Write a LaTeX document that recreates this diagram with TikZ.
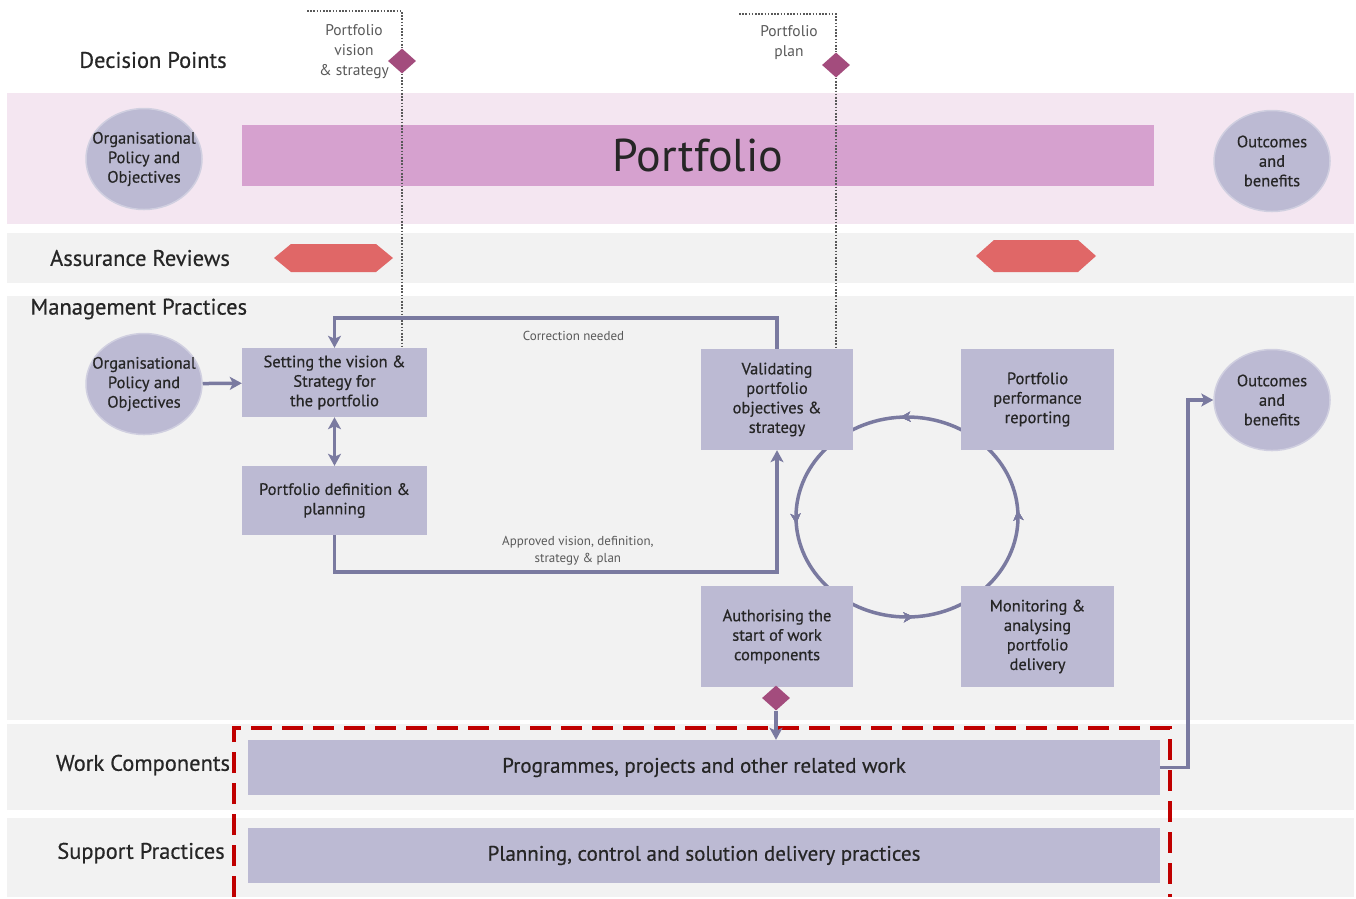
\documentclass[tikz,border=0pt]{standalone}
\usepackage{fontspec}
\setmainfont{PT Sans}
\newfontfamily\heavyfont{PT Sans}[FakeBold = 0.5]
\usetikzlibrary{arrows.meta}
\usetikzlibrary{shapes.geometric}
\usetikzlibrary{decorations.markings}
\usetikzlibrary{positioning}
\definecolor{bandpink}{HTML}{F4E6F1}
\definecolor{bandgrey}{HTML}{F2F2F2}
\definecolor{barpink}{HTML}{D6A1CF}
\definecolor{boxfill}{HTML}{BCBAD3}
\definecolor{ringline}{HTML}{D0CFE0}
\definecolor{flow}{HTML}{7A7AA0}
\definecolor{gatefill}{HTML}{A34C7D}
\definecolor{reviewfill}{HTML}{E06767}
\definecolor{scopered}{HTML}{C00000}
\definecolor{textdark}{HTML}{262626}
\definecolor{textsoft}{HTML}{595959}
\tikzset{box/.style = {fill = boxfill, text = textdark, align = center, inner sep = 0,
                       font = \heavyfont\fontsize{16.5}{19.5}\selectfont}}
\tikzset{ring/.style = {ellipse, fill = boxfill, draw = ringline, line width = 1.5,
                        minimum width = 116, minimum height = 101, inner xsep = -14, inner ysep = 0,
                        text = textdark, align = center, font = \heavyfont\fontsize{16.5}{19.5}\selectfont}}
\tikzset{gate/.style = {diamond, fill = gatefill, minimum width = 28, minimum height = 25,
                        inner sep = 0, aspect = 1.1}}
\tikzset{link/.style = {draw = flow, line width = 3.5}}
\tikzset{tip/.style = {-{Stealth[length = 12, width = 13, inset = 3]}}}
\tikzset{label/.style = {text = textsoft, align = center, font = \fontsize{15.5}{20}\selectfont}}
\tikzset{note/.style = {text = textsoft, align = center, font = \fontsize{13}{17}\selectfont}}
\tikzset{rowname/.style = {text = textdark, font = \heavyfont\fontsize{22.5}{26}\selectfont}}
\tikzset{dots/.style = {draw = textsoft, line width = 1.6, dash pattern = on 1.6 off 1.6}}
\tikzset{->-/.style = {decoration = {markings,
                                     mark = at position #1 with {\arrow{Stealth[length = 10, width = 10, inset = 3]}}},
                       postaction = {decorate}}}

\begin{document}
\begin{tikzpicture}[x = 1pt, y = -1pt]
    \useasboundingbox (0, 0) rectangle (1356, 898);
    \fill [white] (0, 0) rectangle (1356, 898);

    % bands
    \fill [bandpink] (7, 93) rectangle (1354, 224);
    \fill [bandgrey] (7, 233) rectangle (1354, 283);
    \fill [bandgrey] (7, 296) rectangle (1354, 720);
    \fill [bandgrey] (7, 724) rectangle (1354, 810);
    \fill [bandgrey] (7, 818) rectangle (1354, 897);

    \node [rowname] (decision) at (153, 60) {Decision Points};
    \node [rowname] (assurance) at (140, 258) {Assurance Reviews};
    \node [rowname, anchor = west] (management) at (27, 309) {Management Practices};
    \node [rowname] (components) at (143, 765) {Work Components};
    \node [rowname] (support) at (141, 853) {Support Practices};

    % portfolio row
    \node [fill = barpink, minimum width = 912, minimum height = 61, inner sep = 0,
           text = textdark, font = \fontsize{46}{50}\selectfont] (portfolio) at (698, 155.5) {Portfolio};
    \node [ring] (policytop) at (144, 159) {Organisational\\Policy and\\Objectives};
    \node [ring] (outcomestop) at (1272, 161) {Outcomes\\and\\benefits};

    % assurance reviews
    \fill [reviewfill] (274, 258) -- (291, 244) -- (376, 244) -- (393, 258) -- (376, 272) -- (291, 272) -- cycle;
    \fill [reviewfill] (976, 256) -- (994, 240) -- (1078, 240) -- (1096, 256) -- (1078, 272) -- (994, 272) -- cycle;

    % review cycle
    \draw [link, ->-=0.01, ->-=0.26, ->-=0.51, ->-=0.76]
        (907, 417) arc [start angle = 270, end angle = -90, x radius = 111, y radius = 100];

    % management practices
    \node [ring] (policy) at (144, 384) {Organisational\\Policy and\\Objectives};
    \node [ring] (outcomes) at (1272, 400) {Outcomes\\and\\benefits};
    \node [box, minimum width = 185, minimum height = 69] (vision) at (334.5, 382.5)
        {Setting the vision \&\\Strategy for\\the portfolio};
    \node [box, minimum width = 185, minimum height = 69] (definition) at (334.5, 500.5)
        {Portfolio definition \&\\planning};
    \node [box, minimum width = 152, minimum height = 101] (validating) at (777, 399.5)
        {Validating\\portfolio\\objectives \&\\strategy};
    \node [box, minimum width = 153, minimum height = 101] (reporting) at (1037.5, 399.5)
        {Portfolio\\performance\\reporting};
    \node [box, minimum width = 152, minimum height = 101] (authorising) at (777, 636.5)
        {Authorising the\\start of work\\components};
    \node [box, minimum width = 153, minimum height = 101] (monitoring) at (1037.5, 636.5)
        {Monitoring \&\\analysing\\portfolio\\delivery};

    % work and support
    \node [box, minimum width = 912, minimum height = 55, font = \heavyfont\fontsize{21}{24}\selectfont]
        (work) at (704, 767.5) {Programmes, projects and other related work};
    \node [box, minimum width = 912, minimum height = 55, font = \heavyfont\fontsize{21}{24}\selectfont]
        (practices) at (704, 855.5) {Planning, control and solution delivery practices};
    \draw [scopered, line width = 3.5, dash pattern = on 21 off 10] (234, 897) |- (1170, 728) -- (1170, 897);

    % decision points
    \node [gate] (gate1) at (402, 61) {};
    \node [gate] (gate2) at (836, 65) {};
    \node [gate] (gate3) at (776, 698) {};
    \coordinate (start1) at (307, 11);
    \coordinate (start2) at (739, 14);
    \draw [dots] (start1) -| (gate1.north);
    \draw [dots] (gate1.south) -- (gate1.south |- vision.north);
    \draw [dots] (start2) -| (gate2.north);
    \draw [dots] (gate2.south) -- (gate2.south |- validating.north);
    \node [label] (visionlabel) at (354, 52) {Portfolio\\vision\\\& strategy};
    \node [label] (planlabel) at (789, 43) {Portfolio\\plan};

    % flows
    \draw [link, tip] (policy) -- (vision);
    \draw [link, {Stealth[length = 12, width = 13, inset = 3]}-{Stealth[length = 12, width = 13, inset = 3]}]
        (vision) -- (definition);
    \draw [link, tip] (definition.south) -- ++(0, 37) -| (validating.south)
        node [note, pos = 0.275, above = 2pt] {Approved vision, definition,\\strategy \& plan};
    \draw [link, tip] (validating.north) -- ++(0, -31) -| (vision.north)
        node [note, pos = 0.23, below = 8pt] {Correction needed};
    \draw [link, tip] (gate3.south) -- (gate3.south |- work.north);
    \draw [link, tip] (work.east) -- ++(28, 0) |- (outcomes.west);
\end{tikzpicture}
\end{document}
